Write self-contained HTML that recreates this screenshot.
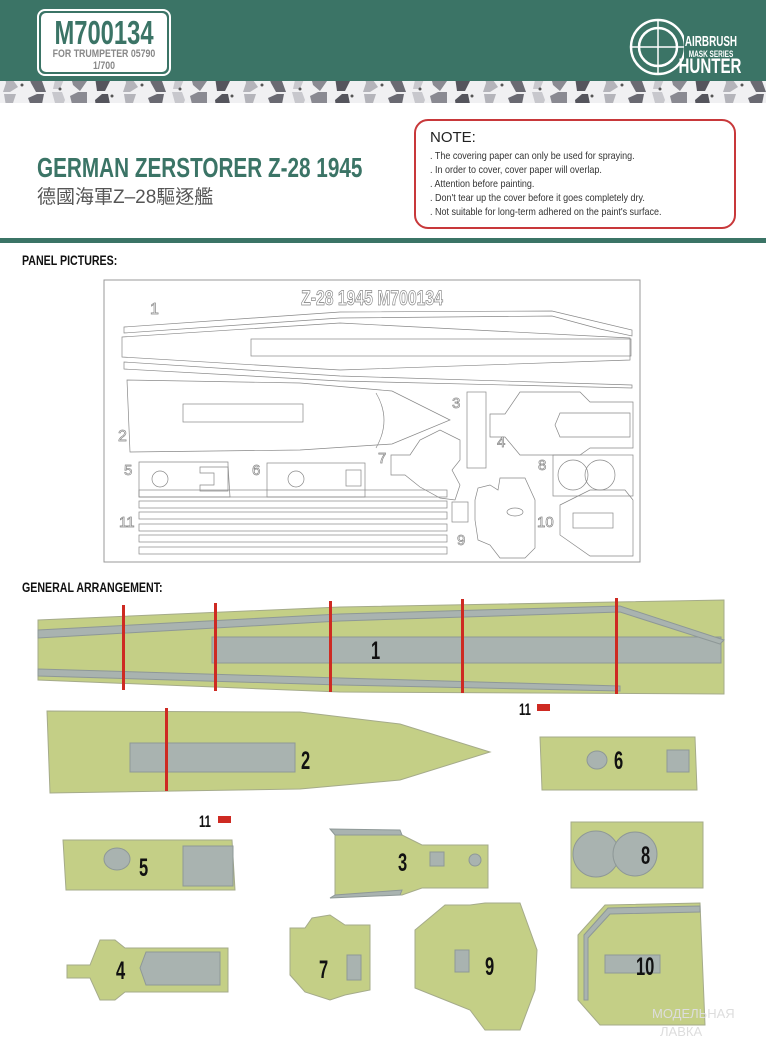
<!DOCTYPE html>
<html><head><meta charset="utf-8"><style>
body{margin:0;width:766px;height:1050px;overflow:hidden;background:#fff}
svg{display:block}
.c{font-family:"Liberation Sans",sans-serif;font-weight:bold}
</style></head><body>
<svg width="766" height="1050" viewBox="0 0 766 1050" xmlns="http://www.w3.org/2000/svg">
<defs>
<pattern id="camo" width="120" height="23" patternUnits="userSpaceOnUse">
<rect width="120" height="23" fill="#f0f0f2"/>
<path d="M4 2h12l-3 9 5 7-8 5h-7l3-9z" fill="#b4b4ba"/>
<path d="M28 6l9-4h7l-2 10 4 11h-10l-5-9z" fill="#6a6a72"/>
<path d="M52 0h10l3 8-5 12h-7l2-9z" fill="#c8c8cd"/>
<path d="M70 4l8-4h9v12l-7 10-7-6z" fill="#8a8a92"/>
<path d="M95 8l7-6h6l2 10-5 10h-8z" fill="#55555d"/>
<circle cx="22" cy="16" r="1.5" fill="#555"/>
<circle cx="60" cy="20" r="1.5" fill="#555"/>
<circle cx="112" cy="4" r="1.5" fill="#555"/>
</pattern>
</defs>
<rect x="0" y="0" width="766" height="81" fill="#3b7466"/>
<rect x="0" y="81" width="766" height="22" fill="url(#camo)"/>
<rect x="38" y="10" width="132" height="65" rx="7" fill="none" stroke="#fff" stroke-width="2"/>
<rect x="41" y="13" width="126" height="59" rx="5" fill="#fff"/>
<text x="104" y="44" text-anchor="middle" class="c" font-size="33" fill="#3b7466" transform="translate(104 0) scale(0.72 1) translate(-104 0)">M700134</text>
<text x="104" y="57" text-anchor="middle" class="c" font-size="11" fill="#888" transform="translate(104 0) scale(0.8 1) translate(-104 0)">FOR TRUMPETER 05790</text>
<text x="104" y="69" text-anchor="middle" class="c" font-size="11" fill="#888" transform="translate(104 0) scale(0.8 1) translate(-104 0)">1/700</text>
<g stroke="#fff" fill="none" stroke-width="2.5">
<circle cx="658" cy="47" r="27"/><circle cx="658" cy="47" r="19"/>
<line x1="632" y1="47" x2="684" y2="47" stroke-width="1.5"/><line x1="658" y1="21" x2="658" y2="73" stroke-width="1.5"/>
</g>
<rect x="684" y="28" width="54" height="48" fill="#3b7466"/>
<text x="711" y="46" text-anchor="middle" class="c" font-size="15" fill="#fff" transform="translate(711 0) scale(0.66 1) translate(-711 0)">AIRBRUSH</text>
<text x="711" y="57" text-anchor="middle" class="c" font-size="9" fill="#fff" transform="translate(711 0) scale(0.72 1) translate(-711 0)">MASK SERIES</text>
<text x="710" y="73" text-anchor="middle" class="c" font-size="21" fill="#fff" transform="translate(710 0) scale(0.72 1) translate(-710 0)">HUNTER</text>
<text x="37" y="177" class="c" font-size="28" fill="#3b7466" transform="translate(37 0) scale(0.74 1) translate(-37 0)">GERMAN ZERSTORER Z-28 1945</text>
<text x="37" y="203" font-family="Liberation Sans,'Noto Sans CJK TC',sans-serif" font-size="19" fill="#555">德國海軍Z–28驅逐艦</text>
<rect x="415" y="120" width="320" height="108" rx="13" fill="none" stroke="#c8383a" stroke-width="2"/>
<text x="430" y="142" font-family="Liberation Sans,sans-serif" font-size="15" fill="#222">NOTE:</text>
<g font-family="Liberation Sans,sans-serif" font-size="10" fill="#333" transform="translate(430 0) scale(0.9 1) translate(-430 0)">
<text x="430" y="159">. The covering paper can only be used for spraying.</text>
<text x="430" y="173">. In order to cover, cover paper will overlap.</text>
<text x="430" y="187">. Attention before painting.</text>
<text x="430" y="201">. Don't tear up the cover before it goes completely dry.</text>
<text x="430" y="215">. Not suitable for long-term adhered on the paint's surface.</text>
</g>
<rect x="0" y="238" width="766" height="5" fill="#3b7466"/>
<text x="22" y="265" class="c" font-size="14" fill="#111" transform="translate(22 0) scale(0.76 1) translate(-22 0)">PANEL PICTURES:</text>
<rect x="104" y="280" width="536" height="282" fill="#fff" stroke="#999" stroke-width="1"/>
<text x="372" y="305" text-anchor="middle" class="c" font-size="21" fill="#fff" stroke="#888" stroke-width="0.8" transform="translate(372 0) scale(0.75 1) translate(-372 0)">Z-28 1945   M700134</text>
<g fill="none" stroke="#888" stroke-width="0.7">
<text x="150" y="314" font-size="16" font-family="Liberation Sans" fill="#fff" stroke="#888">1</text>
<path d="M124 327 L340 312 L552 311 L632 330 L632 336 L600 329 L552 316 L340 318 L124 333Z"/>
<path d="M122 337 L340 323 L630 338 L630 360 L340 370 L122 357Z"/>
<rect x="251" y="339" width="380" height="17"/>
<path d="M124 362 L340 376 L632 385 L632 388 L340 381 L124 369Z"/>
<path d="M127 380 L300 383 L392 391 L450 420 L392 444 L300 450 L130 452Z"/>
<rect x="183" y="404" width="120" height="18"/>
<path d="M376 393 Q392 420 376 448"/>
<text x="118" y="441" font-size="16" font-family="Liberation Sans" fill="#fff" stroke="#888">2</text>
<rect x="467" y="392" width="19" height="76"/>
<text x="452" y="408" font-size="15" font-family="Liberation Sans" fill="#fff" stroke="#888">3</text>
<path d="M490 414 L505 414 L520 392 L580 392 L590 402 L633 402 L633 448 L590 448 L580 455 L520 455 L505 437 L490 437Z"/>
<path d="M560 413 L630 413 L630 437 L560 437 L555 425Z"/>
<text x="497" y="447" font-size="15" font-family="Liberation Sans" fill="#fff" stroke="#888">4</text>
<path d="M139 462 L228 462 L228 465 L230 497 L139 497Z"/>
<circle cx="160" cy="479" r="8"/><path d="M200 467 L228 467 L228 491 L200 491 L200 485 L214 485 L214 473 L200 473Z"/>
<text x="124" y="475" font-size="15" font-family="Liberation Sans" fill="#fff" stroke="#888">5</text>
<rect x="267" y="463" width="98" height="34"/><circle cx="296" cy="479" r="8"/><rect x="346" y="470" width="15" height="16"/>
<text x="252" y="475" font-size="15" font-family="Liberation Sans" fill="#fff" stroke="#888">6</text>
<path d="M391 455 L410 455 L420 440 L440 430 L460 440 L460 460 L452 470 L460 485 L455 500 L440 498 L420 487 L405 475 L391 475Z"/>
<text x="378" y="463" font-size="15" font-family="Liberation Sans" fill="#fff" stroke="#888">7</text>
<rect x="553" y="455" width="80" height="41"/><circle cx="573" cy="475" r="15"/><circle cx="600" cy="475" r="15"/>
<text x="538" y="470" font-size="15" font-family="Liberation Sans" fill="#fff" stroke="#888">8</text>
<path d="M475 500 L478 488 L490 485 L498 490 L500 478 L525 478 L535 500 L535 548 L525 558 L500 558 L490 545 L478 540 L475 520Z"/>
<rect x="452" y="502" width="16" height="20"/>
<ellipse cx="515" cy="512" rx="8" ry="4"/>
<text x="457" y="545" font-size="15" font-family="Liberation Sans" fill="#fff" stroke="#888">9</text>
<path d="M560 505 L590 490 L625 490 L633 500 L633 556 L590 556 L560 535Z"/><rect x="573" y="513" width="40" height="15"/>
<text x="537" y="527" font-size="15" font-family="Liberation Sans" fill="#fff" stroke="#888">10</text>
<rect x="139" y="490" width="308" height="7"/><rect x="139" y="501" width="308" height="7"/><rect x="139" y="512" width="308" height="7"/><rect x="139" y="524" width="308" height="7"/><rect x="139" y="535" width="308" height="7"/><rect x="139" y="547" width="308" height="7"/>
<text x="119" y="527" font-size="15" font-family="Liberation Sans" fill="#fff" stroke="#888">11</text>
</g>
<text x="22" y="592" class="c" font-size="14" fill="#111" transform="translate(22 0) scale(0.76 1) translate(-22 0)">GENERAL ARRANGEMENT:</text>
<g fill="#c4cf86" stroke="#a5ab8a" stroke-width="1">
<path d="M38 620 L340 607 L724 600 L724 694 L340 692 L38 680Z"/>
<path d="M47 711 L300 712 L400 724 L490 752 L400 780 L300 789 L50 793Z"/>
<path d="M540 737 L695 737 L697 790 L542 790Z"/>
<path d="M63 840 L232 840 L235 890 L66 890Z"/>
<path d="M335 835 L402 835 L422 845 L488 845 L488 888 L422 888 L402 895 L335 895Z"/>
<path d="M571 822 L703 822 L703 888 L571 888Z"/>
<path d="M67 965 L90 965 L100 940 L115 940 L125 948 L228 948 L228 992 L125 992 L115 1000 L100 1000 L90 978 L67 978Z"/>
<path d="M290 928 L305 928 L312 918 L330 915 L345 925 L370 925 L370 990 L345 995 L330 1000 L305 992 L290 975Z"/>
<path d="M415 930 L445 905 L470 905 L485 903 L520 903 L537 950 L535 990 L520 1030 L485 1030 L470 1010 L445 1000 L415 988Z"/>
<path d="M578 935 L605 905 L700 903 L705 1025 L600 1025 L578 1000Z"/>
</g>
<g fill="#a9b3b0" stroke="#8e9897" stroke-width="1">
<rect x="212" y="637" width="509" height="26"/>
<path d="M38 630 L340 614 L620 606 L724 640 L720 644 L620 612 L340 621 L38 638Z"/>
<path d="M38 669 L340 678 L620 686 L620 691 L340 685 L38 676Z"/>
<rect x="130" y="743" width="165" height="29"/>
<ellipse cx="597" cy="760" rx="10" ry="9"/><rect x="667" y="750" width="22" height="22"/>
<ellipse cx="117" cy="859" rx="13" ry="11"/><rect x="183" y="846" width="50" height="40"/>
<path d="M330 829 L400 830 L402 835 L335 835Z"/><path d="M330 898 L400 895 L402 890 L335 895Z"/>
<rect x="430" y="852" width="14" height="14"/><circle cx="475" cy="860" r="6"/>
<circle cx="596" cy="854" r="23"/><circle cx="635" cy="854" r="22"/>
<path d="M146 952 L220 952 L220 985 L146 985 L140 968Z"/>
<rect x="347" y="955" width="14" height="25"/>
<rect x="455" y="950" width="14" height="22"/>
<path d="M584 935 L608 908 L700 906 L700 912 L610 914 L588 938 L588 1000 L584 1000Z"/>
<rect x="605" y="955" width="55" height="18"/>
</g>
<g fill="#ce2a22">
<rect x="122" y="605" width="3" height="85"/><rect x="214" y="603" width="3" height="88"/><rect x="329" y="601" width="3" height="91"/><rect x="461" y="599" width="3" height="94"/><rect x="615" y="598" width="3" height="96"/>
<rect x="165" y="708" width="3" height="83"/>
<rect x="537" y="704" width="13" height="7"/>
<rect x="218" y="816" width="13" height="7"/>
</g>
<g class="c" fill="#111" font-size="25">
<text x="371" y="659" transform="translate(371 0) scale(0.66 1) translate(-371 0)">1</text>
<text x="301" y="769" transform="translate(301 0) scale(0.66 1) translate(-301 0)">2</text>
<text x="614" y="769" transform="translate(614 0) scale(0.66 1) translate(-614 0)">6</text>
<text x="139" y="876" transform="translate(139 0) scale(0.66 1) translate(-139 0)">5</text>
<text x="398" y="871" transform="translate(398 0) scale(0.66 1) translate(-398 0)">3</text>
<text x="641" y="864" transform="translate(641 0) scale(0.66 1) translate(-641 0)">8</text>
<text x="116" y="979" transform="translate(116 0) scale(0.66 1) translate(-116 0)">4</text>
<text x="319" y="978" transform="translate(319 0) scale(0.66 1) translate(-319 0)">7</text>
<text x="485" y="975" transform="translate(485 0) scale(0.66 1) translate(-485 0)">9</text>
<text x="636" y="975" transform="translate(636 0) scale(0.66 1) translate(-636 0)">10</text>
<text x="519" y="715" font-size="17" transform="translate(519 0) scale(0.66 1) translate(-519 0)">11</text>
<text x="199" y="827" font-size="17" transform="translate(199 0) scale(0.66 1) translate(-199 0)">11</text>
</g>
<text x="652" y="1018" font-family="Liberation Sans" font-size="13" fill="#ddd">МОДЕЛЬНАЯ</text>
<text x="660" y="1036" font-family="Liberation Sans" font-size="13" fill="#ddd">ЛАВКА</text>
</svg>
</body></html>
